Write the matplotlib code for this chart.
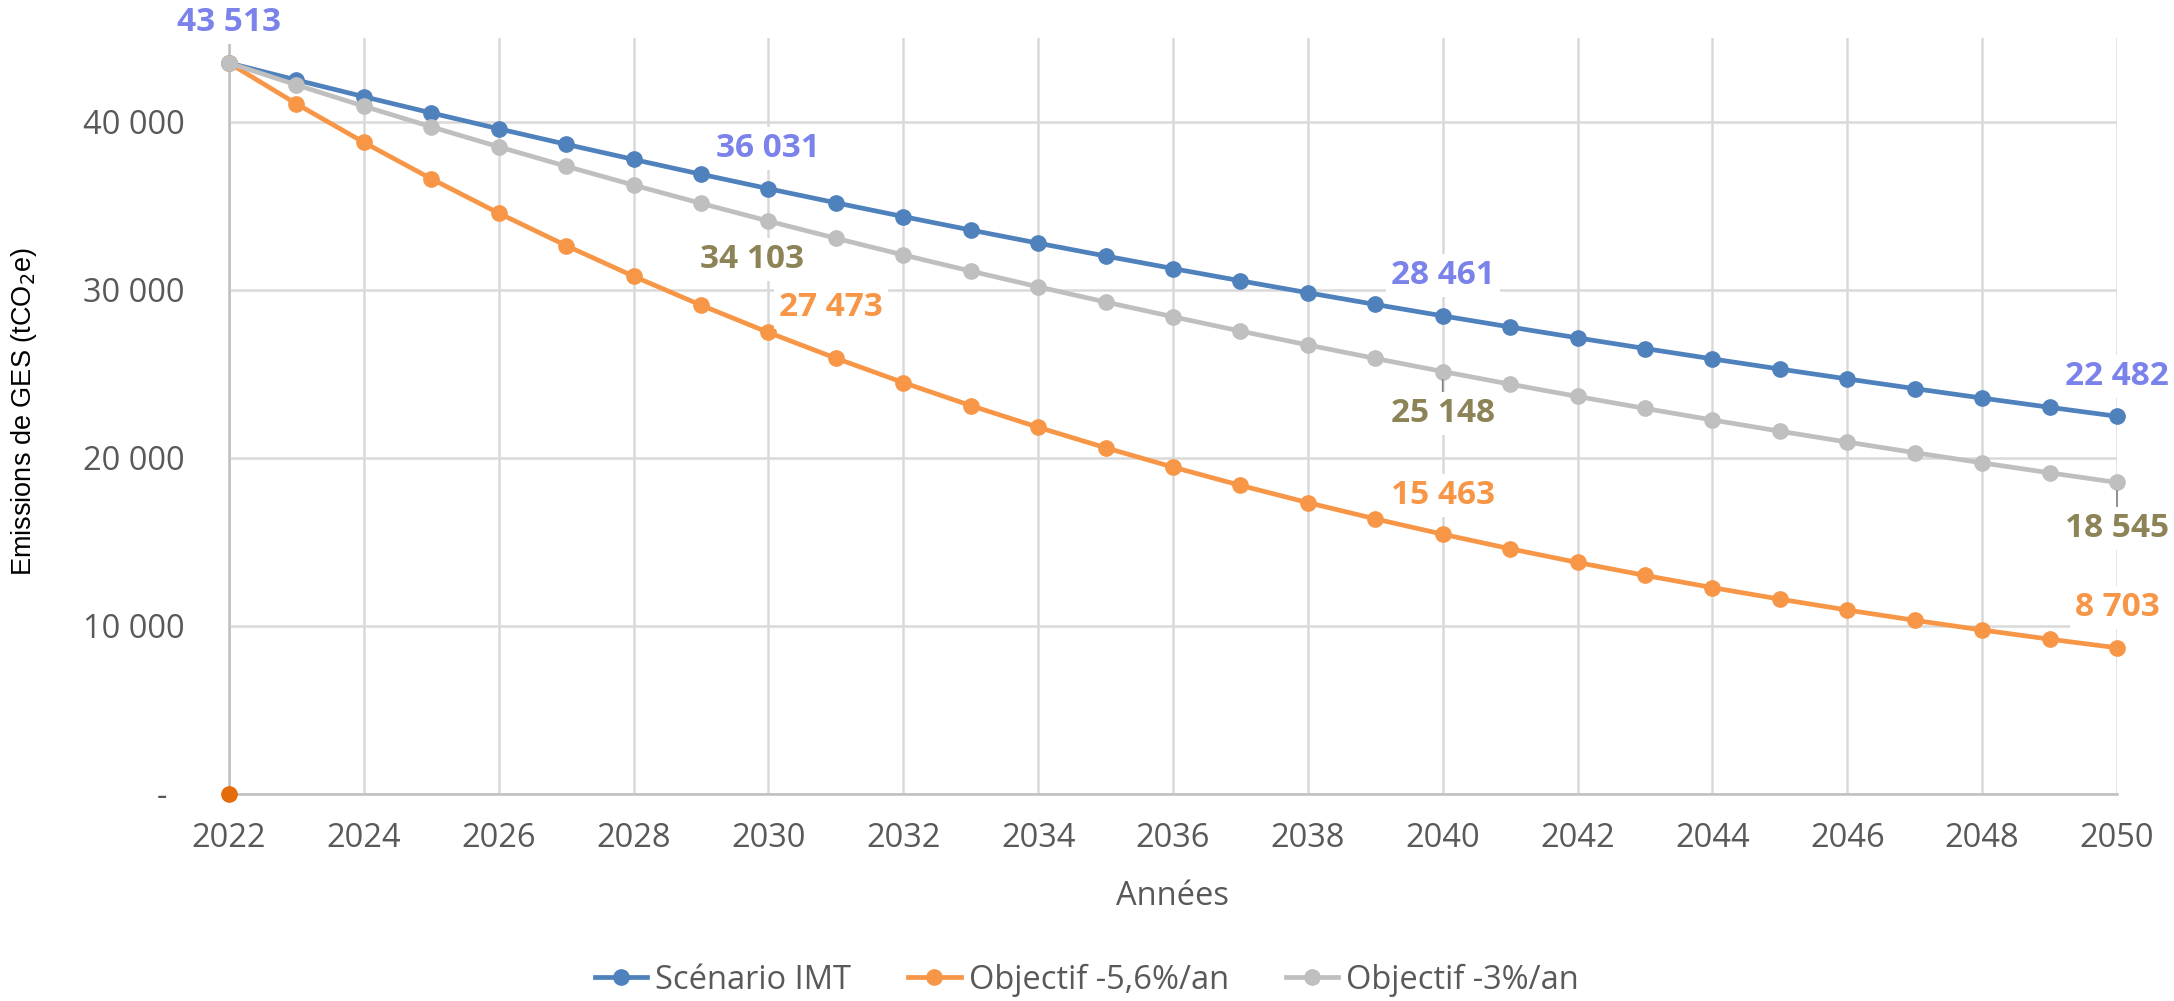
import matplotlib
matplotlib.use('Agg')
import matplotlib.pyplot as plt

# données
annees = list(range(2022, 2051))
scenario_imt = [43513, 42499, 41508, 40541, 39596, 38673, 37772, 36891, 36031, 35191,
                34371, 33570, 32787, 32023, 31277, 30548, 29836, 29140, 28461, 27798,
                27150, 26517, 25899, 25295, 24706, 24130, 23567, 23018, 22482]
objectif_56 = [43513, 41082, 38787, 36620, 34574, 32643, 30819, 29097, 27473, 25938,
               24489, 23121, 21829, 20609, 19458, 18371, 17345, 16376, 15463, 14597,
               13782, 13012, 12285, 11599, 10951, 10339, 9762, 9216, 8703]
objectif_3 = [43513, 42208, 40941, 39713, 38522, 37366, 36245, 35158, 34103, 33080,
              32087, 31125, 30191, 29285, 28407, 27554, 26728, 25926, 25148, 24394,
              23662, 22952, 22263, 21595, 20948, 20319, 19710, 19118, 18545]
point_isole_annee = [2022]
point_isole_val = [0]

x_ticks = list(range(2022, 2051, 2))
y_ticks = [0, 10000, 20000, 30000, 40000]
y_tick_labels = ['-  ', '10 000', '20 000', '30 000', '40 000']

# années portant une étiquette de valeur
etiquettes_imt = [2022, 2030, 2040, 2050]
etiquettes_56 = [2030, 2040, 2050]
etiquettes_3 = [2030, 2040, 2050]

c_imt = '#4F81BD'
c_56 = '#F79646'
c_3 = '#BFBFBF'
txt = '#595959'

fig = plt.figure(figsize=(21.74, 10.01), dpi=100)
ax = fig.add_axes([229 / 2174, 1 - 794 / 1001, (2117 - 229) / 2174, (794 - 38) / 1001])

kw = dict(lw=3.4, marker='o', markersize=11, zorder=3, clip_on=False)
ax.plot(annees, scenario_imt, color=c_imt, label='Scénario IMT', **kw)
ax.plot(annees, objectif_56, color=c_56, label='Objectif -5,6%/an', **kw)
ax.plot(annees, objectif_3, color=c_3, label='Objectif -3%/an', **kw)
ax.plot(point_isole_annee, point_isole_val, 'o', color='#E46C0A', markersize=11,
        zorder=4, clip_on=False)

ax.set_xlim(2022, 2050)
ax.set_ylim(0, 45000)
ax.set_xticks(x_ticks)
ax.set_xticklabels([str(a) for a in x_ticks])
ax.set_yticks(y_ticks)
ax.set_yticklabels(y_tick_labels)
ax.grid(True, color='#D9D9D9', lw=1.8, zorder=0)
ax.set_axisbelow(True)
for s in ['top', 'right']:
    ax.spines[s].set_visible(False)
for s in ['left', 'bottom']:
    ax.spines[s].set_color('#BFBFBF')
    ax.spines[s].set_linewidth(1.8)
ax.tick_params(length=0, labelsize=23.5, labelcolor=txt)
ax.tick_params(axis='y', pad=32)
ax.tick_params(axis='x', pad=20)
for t in ax.get_xticklabels() + ax.get_yticklabels():
    t.set_fontfamily('Open Sans')

ax.set_xlabel('Années', fontsize=23.5, color=txt, family='Open Sans', labelpad=18)
fig.text(24 / 2174, 1 - 412 / 1001, 'Emissions de GES (tCO$_2$e)', rotation=90,
         ha='center', va='center', fontsize=19.5, family='Liberation Sans', color='black')


def fmt(v):
    return f'{v:,}'.replace(',', ' ')


def etiquette(annee, valeur, couleur, dx, dy, rappel=False):
    ap = None
    if rappel:
        ap = dict(arrowstyle='-', color='#7F7F7F', lw=1.2, shrinkA=0, shrinkB=6)
    ax.annotate(fmt(valeur), (annee, valeur), xytext=(dx, dy), textcoords='offset points',
                ha='center', va='center', fontsize=24, fontweight='bold', color=couleur,
                family='Open Sans', annotation_clip=False, zorder=5,
                bbox=dict(boxstyle='square,pad=0.15', fc='white', ec='none'),
                arrowprops=ap)


col_imt = '#7B83EB'
col_56 = '#F79646'
col_3 = '#8C8356'
for a in etiquettes_imt:
    etiquette(a, scenario_imt[annees.index(a)], col_imt, 0, 29)
dec_56 = {2030: (45, 18), 2040: (0, 28), 2050: (0, 29)}
for a in etiquettes_56:
    etiquette(a, objectif_56[annees.index(a)], col_56, *dec_56[a])
dec_3 = {2030: (-12, -28), 2040: (0, -30), 2050: (0, -33)}
for a in etiquettes_3:
    etiquette(a, objectif_3[annees.index(a)], col_3, *dec_3[a], rappel=(a != 2030))

leg = fig.legend(loc='center', bbox_to_anchor=(0.5, 1 - 980 / 1001), ncol=3, frameon=False,
                 prop={'family': 'Open Sans', 'size': 23.5}, handlelength=1.6,
                 handletextpad=0.25, columnspacing=1.75)
for t in leg.get_texts():
    t.set_color(txt)

fig.savefig('out.png', dpi=100)
